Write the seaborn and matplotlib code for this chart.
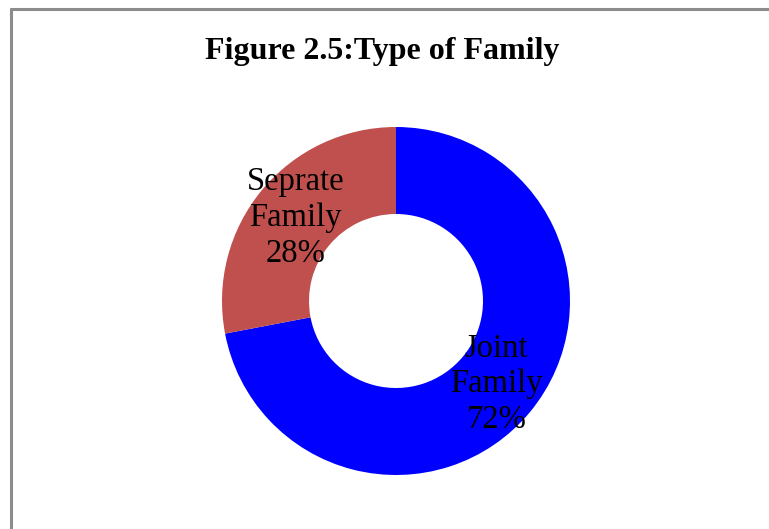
import matplotlib
matplotlib.use("Agg")
import matplotlib.pyplot as plt
import seaborn as sns
from matplotlib.lines import Line2D

categories = ["Joint\nFamily", "Seprate\nFamily"]
percent = [72, 28]
colors = ["#0000FF", "#C0504D"]

sns.set_theme(style="white")
plt.rcParams['font.family'] = ['Liberation Serif', 'DejaVu Serif']
plt.rcParams['text.color'] = 'black'

W, H = 769, 529
fig = plt.figure(figsize=(W / 100, H / 100), dpi=100)
fig.patch.set_facecolor("white")

# chart border (only top and left visible in the crop)
fig.add_artist(Line2D([11 / W, 11 / W], [0, 1 - 9 / H], transform=fig.transFigure,
                      color="#8c8c8c", lw=2.2))
fig.add_artist(Line2D([11 / W, 1], [1 - 9 / H, 1 - 9 / H], transform=fig.transFigure,
                      color="#8c8c8c", lw=2.2))

cx, cy, r = 396, 301, 174
ax = fig.add_axes([(cx - r) / W, (H - cy - r) / H, 2 * r / W, 2 * r / H])
labels = [f"{c}\n{p}%" for c, p in zip(categories, percent)]
wedges, texts = ax.pie(percent, labels=labels, colors=colors, startangle=90,
                       counterclock=False, labeldistance=0.75,
                       wedgeprops=dict(width=0.5, linewidth=0),
                       textprops=dict(fontsize=23.5, ha="center", va="center",
                                      linespacing=1.22, color="black"))
ax.set_xlim(-1, 1)
ax.set_ylim(-1, 1)
ax.axis("off")

fig.text(382 / W, 1 - 51 / H, "Figure 2.5:Type of Family", ha="center", va="center",
         fontsize=23, fontweight="bold", color="black")

fig.savefig("out.png", dpi=100)
